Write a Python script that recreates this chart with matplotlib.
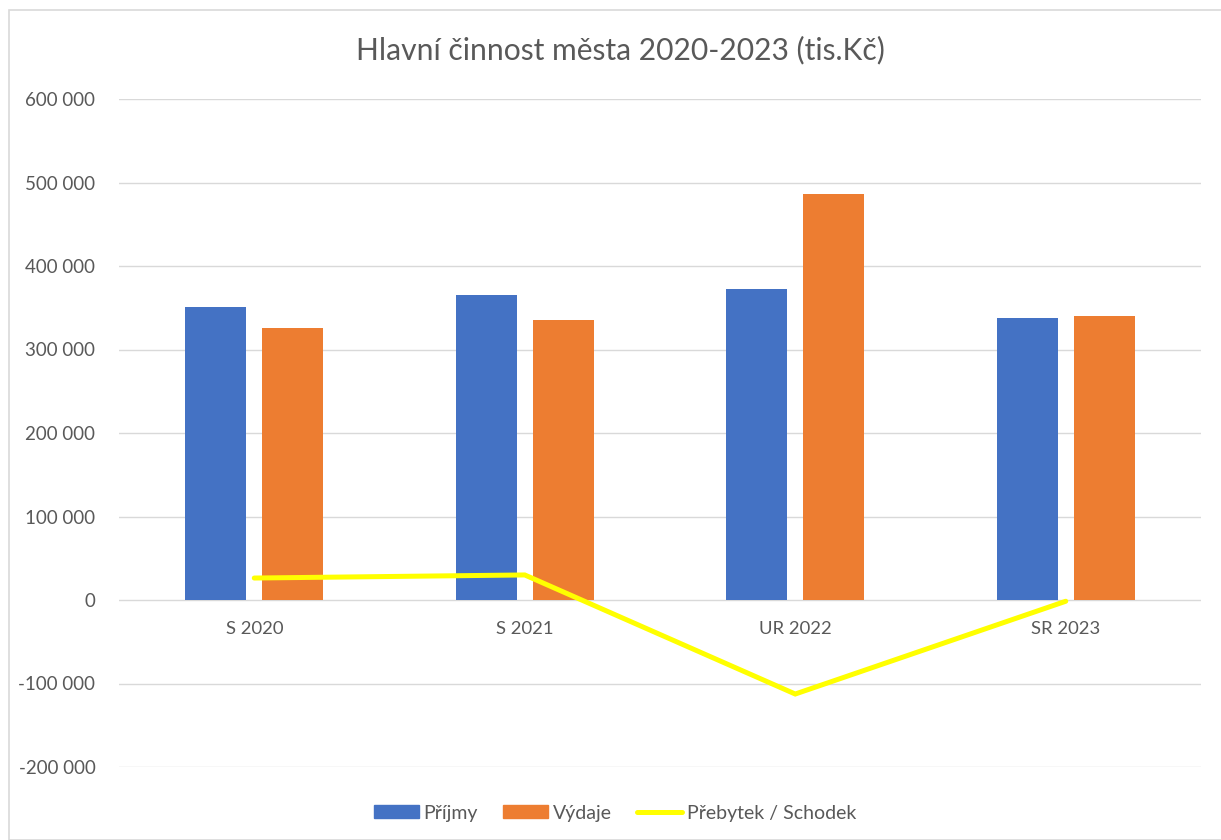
import matplotlib
matplotlib.use("Agg")
import matplotlib.pyplot as plt
from matplotlib.patches import Rectangle, Patch
from matplotlib.lines import Line2D
from matplotlib.ticker import FuncFormatter, MultipleLocator
import numpy as np

plt.rcParams['font.family'] = ['Lato', 'DejaVu Sans']

categories = ["S 2020", "S 2021", "UR 2022", "SR 2023"]
prijmy = [351000, 365000, 372500, 337700]
vydaje = [325500, 335300, 486000, 340000]
prebytek = [26300, 30000, -112600, -1500]

title = "Hlavní činnost města 2020-2023 (tis.Kč)"
text_color = "#595959"

fig = plt.figure(figsize=(12.21, 8.4), dpi=100)
W, H = 1221, 840
ax = fig.add_axes([119 / W, 1 - 767 / H, (1201 - 119) / W, (767 - 99) / H])

x = np.arange(len(categories))
bw = 0.226
off = 0.142
b1 = ax.bar(x - off, prijmy, width=bw, color="#4472C4", label="Příjmy", zorder=3)
b2 = ax.bar(x + off, vydaje, width=bw, color="#ED7D31", label="Výdaje", zorder=3)
l1, = ax.plot(x, prebytek, color="#FFFF00", lw=3.6, label="Přebytek / Schodek",
              zorder=4, solid_capstyle="round", solid_joinstyle="miter")

ax.set_xlim(-0.5, 3.5)
ax.set_ylim(-200000, 600000)
ax.yaxis.set_major_locator(MultipleLocator(100000))
ax.yaxis.set_major_formatter(FuncFormatter(lambda v, p: f"{int(v):,}".replace(",", " ")))
ax.grid(axis="y", color="#d9d9d9", lw=1.0, zorder=0)
ax.set_axisbelow(True)
for s in ax.spines.values():
    s.set_visible(False)
ax.tick_params(axis="y", length=0, pad=17, labelsize=13.5, labelcolor=text_color)
ax.set_xticks([])
for i, c in enumerate(categories):
    ax.text(i, -34700, c, ha="center", va="center", fontsize=13.3, color=text_color)

fig.text(620 / W, 1 - 50 / H, title, ha="center", va="center", fontsize=21.6, color=text_color)

handles = [Patch(color="#4472C4"), Patch(color="#ED7D31"),
           Line2D([], [], color="#FFFF00", lw=3.6, solid_capstyle="round")]
labels = ["Příjmy", "Výdaje", "Přebytek / Schodek"]
fig.legend(handles, labels, loc="center", bbox_to_anchor=(615 / W, 1 - 813 / H), ncol=3,
           frameon=False, fontsize=14, labelcolor=text_color, handlelength=2.3,
           handleheight=0.6, columnspacing=1.3, handletextpad=0.25)

fig.patches.append(Rectangle((9 / W, 0), 1.2, 1 - 10 / H, transform=fig.transFigure,
                             fill=False, edgecolor="#d9d9d9", lw=1.2))

fig.savefig("out.png", dpi=100, facecolor="white")
